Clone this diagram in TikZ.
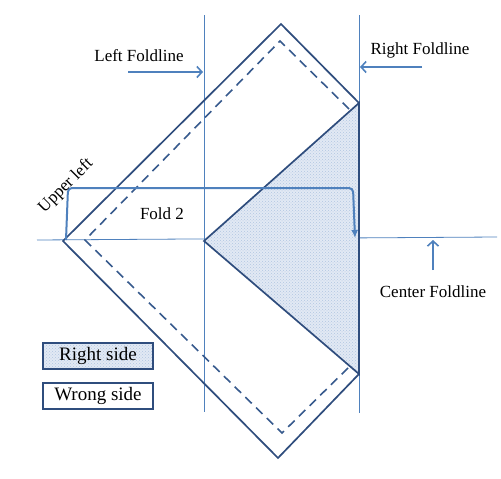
\documentclass[tikz,border=0pt]{standalone}
\usepackage{fontspec}
\setmainfont{Liberation Serif}
\usetikzlibrary{shapes,arrows,arrows.meta,positioning,calc,patterns}

\definecolor{edge}{RGB}{47,77,125}
\definecolor{fold}{RGB}{79,129,189}
\definecolor{dotfill}{RGB}{226,233,244}

\begin{document}
\begin{tikzpicture}[x=1pt,y=-1pt,
  lbl/.style={font=\fontsize{17}{20}\selectfont, inner sep=0pt},
  foldline/.style={draw=fold, line width=0.8pt},
  pointer/.style={draw=fold, line width=1.6pt, -{Straight Barb[length=5pt,width=11pt]}},
  outline/.style={draw=edge, line width=1.7pt},
  seam/.style={draw=edge!75!fold, line width=1.6pt, dash pattern=on 9pt off 6pt},
  rightside/.style={preaction={fill=dotfill}, pattern=crosshatch dots, pattern color=fold!45},
  keybox/.style={draw=edge, line width=1.8pt, minimum width=110pt, minimum height=26pt, inner sep=0pt, font=\fontsize{19}{22}\selectfont}]
\useasboundingbox (0,0) rectangle (501,479);

% fold lines
\coordinate (lt) at (204,15);
\coordinate (lb) at (204,412);
\coordinate (rt) at (359,15);
\coordinate (rb) at (359,413);
\coordinate (cl) at (37,240);
\coordinate (cr) at (497,237);
\draw[foldline] (lt) -- (lb);
\draw[foldline] (rt) -- (rb);
\draw[foldline] (cl) -- (cr);

% fabric, right point folded over
\coordinate (top) at (281,24);
\coordinate (left) at (63,241);
\coordinate (bot) at (278,458);
\coordinate (rup) at (359,103);
\coordinate (rlow) at (359,374);
\coordinate (tip) at (204,241);
\fill[rightside] (rup) -- (tip) -- (rlow) -- cycle;
\draw[outline] (rup) -- (top) -- (left) -- (bot) -- (rlow);
\draw[outline] (rup) -- (tip) -- (rlow) -- cycle;

% seam allowance
\coordinate (sup) at (349,109);
\coordinate (stop) at (280,41);
\coordinate (sleft) at (85,240);
\coordinate (sbot) at (282,433);
\coordinate (slow) at (350,366);
\draw[seam] (sup) -- (stop) -- (sleft) -- (sbot) -- (slow);

% fold 2
\coordinate (f1) at (66,240);
\coordinate (f2) at (68,188);
\coordinate (f3) at (353,188);
\coordinate (f4) at (355,238);
\draw[draw=fold, line width=2pt, rounded corners=4pt, -{Latex[length=8pt,width=7pt]}] (f1) -- (f2) -- (f3) -- (f4);
\node[lbl] (fold2) at (162,214) {Fold 2};
\node[lbl, rotate=45] (upper) at (66,186) {Upper left};

% labels
\node[lbl] (leftlbl) at (139,56) {Left Foldline};
\coordinate (la) at (128,72);
\coordinate (lz) at (203,72);
\draw[pointer] (la) -- (lz);

\node[lbl] (rightlbl) at (420,50) {Right Foldline};
\coordinate (ra) at (422,67);
\coordinate (rz) at (360,67);
\draw[pointer] (ra) -- (rz);

\node[lbl] (centerlbl) at (433,292) {Center Foldline};
\coordinate (ca) at (433,270);
\coordinate (cz) at (433,240);
\draw[pointer] (ca) -- (cz);

% key
\node[keybox, rightside] (rightkey) at (98,356) {Right side};
\node[keybox] (wrongkey) at (98,396) {Wrong side};
\end{tikzpicture}
\end{document}
